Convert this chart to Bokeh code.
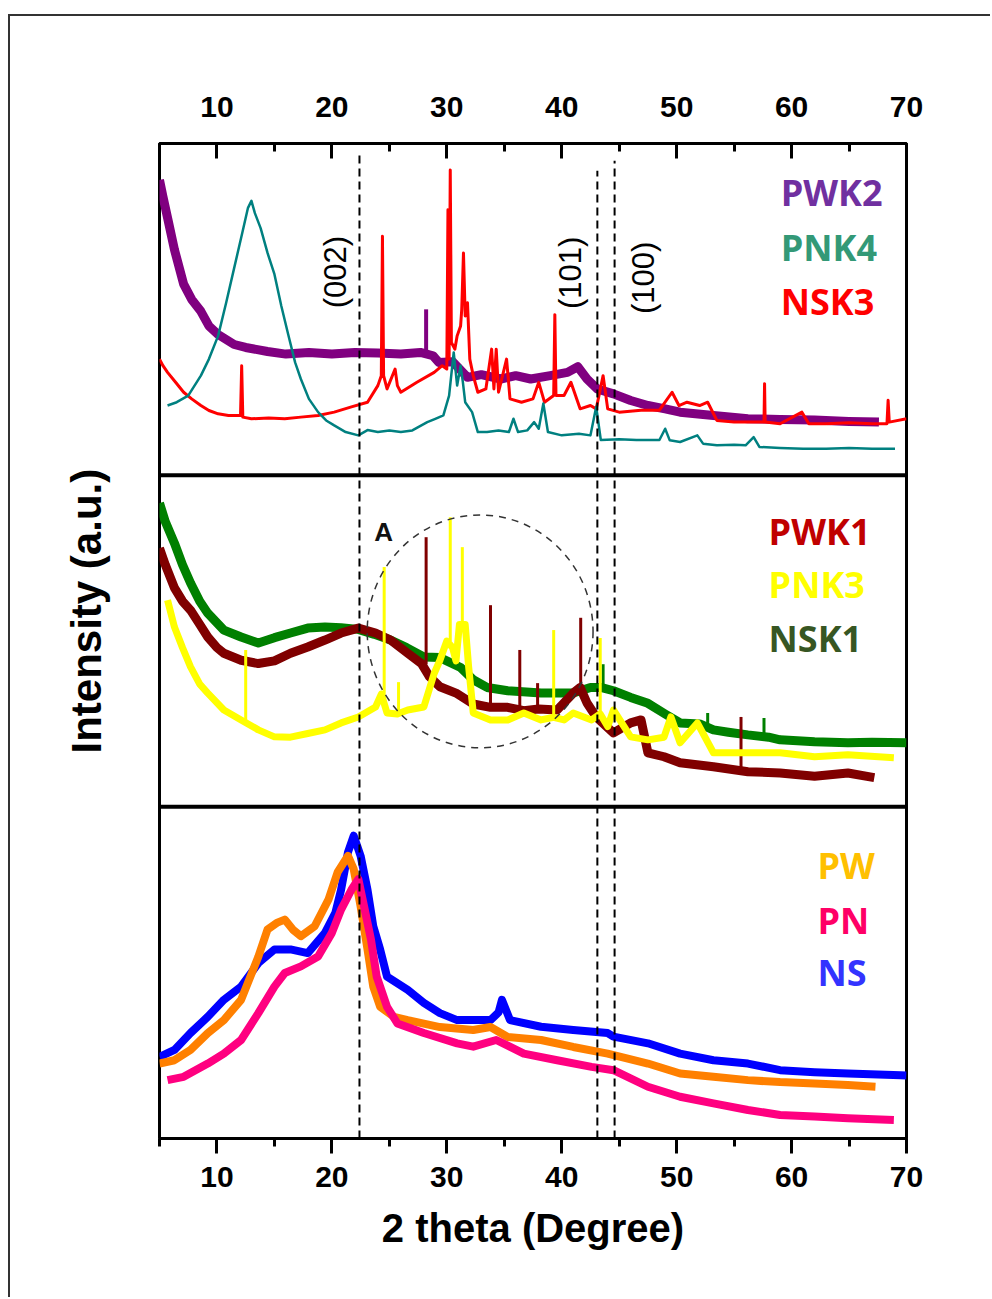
import math
from bokeh.plotting import figure
from bokeh.models import Range1d, LinearAxis, SingleIntervalTicker, Span, Title
from bokeh.core.properties import value
from bokeh.embed import file_html
from bokeh.resources import INLINE

# ---------------- data ----------------
# values are in a.u. within each panel (0..100); panels are stacked
# top panel: PWK2, PNK4, NSK3
pwk2_x = [5.0, 5.3, 5.7, 6.3, 7.1, 7.8, 8.6, 9.3, 10.1, 11.5, 12.5, 14.4, 16.0, 18.0, 20.0, 22.0, 24.0,
          26.0, 27.7, 28.8, 29.3, 30.5, 31.8, 33.0, 34.7, 36.0, 37.3, 39.0, 40.5, 41.4,
          42.2, 43.1, 44.5, 46.0, 47.5, 49.0, 50.3, 53.2, 56.2, 59.0, 62.0, 65.0, 67.6]
pwk2_y = [89, 84, 77.6, 68, 57.6, 53, 49.4, 45, 42.4, 39.4, 38.5, 37.3, 36.5, 37, 36.5, 37, 36.8,
          36.5, 37, 36, 34, 34.2, 29.5, 30.3, 29, 30, 29, 30, 31, 32.7,
          29, 26, 24.5, 22.5, 21, 20, 19, 18, 17, 16.8, 16.6, 16.2, 16]
pwk2_spike_x = [28.2]
pwk2_spike_base = [37]
pwk2_spike_top = [50]

pnk4_x = [5.7, 6.5, 7.5, 8.6, 9.3, 10.1, 10.8, 11.5, 12.2, 12.7, 13.0, 13.3, 13.8, 14.4, 15.0, 15.6,
          16.2, 16.8, 17.3, 18.0, 18.8, 19.5, 20.2, 21.2, 22.3, 23.1, 24.0, 25.0, 26.0, 27.0, 28.3,
          29.0, 29.7, 30.2, 30.6, 30.9, 31.2, 31.4, 31.6, 32.2, 32.7, 33.5, 34.5, 35.4, 35.8, 36.2,
          37.0, 37.6, 38.0, 38.4, 38.8, 40.0, 41.5, 42.5, 43.0, 43.4, 45.0, 46.5, 48.5, 49.0, 49.4,
          50.3, 51.8, 52.3, 53.5, 55.0, 56.0, 56.7, 57.2, 59.0, 61.0, 63.0, 65.0, 67.0, 69.0]
pnk4_y = [21, 22, 24, 30, 35, 42, 52, 62.5, 73, 80.6, 82.7, 79, 74.5, 67, 60.6, 51,
          42.4, 34, 29, 23, 19, 16.5, 15, 13, 12, 13.6, 13, 13.5, 13, 13.5, 16,
          17, 18, 24, 37, 27, 33, 28, 22, 19, 13, 13, 13.5, 13, 17, 13,
          13.5, 16, 14, 21.6, 13, 12, 12.5, 12, 20.6, 10.6, 10.8, 10.6, 10.6, 14, 10.5,
          10, 12, 9.5, 9, 9.2, 9, 11.5, 8.5, 8.2, 8, 8, 8.2, 8, 8]

nsk3_x = [5.0, 5.3, 5.7, 6.4, 7.1, 7.8, 8.6, 9.3, 10.1, 11.0, 12.05, 12.15, 12.25, 13.0, 14.5, 15.9,
          17.3, 18.8, 20.2, 21.7, 23.1, 24.0, 24.3, 24.4, 24.5, 24.8, 25.5, 25.7, 26.0, 27.4, 28.9,
          29.6, 30.0, 30.1, 30.2, 30.3, 30.4, 30.7, 30.9, 31.2, 31.3, 31.45, 31.6, 31.8, 32.0, 32.3,
          32.7, 33.4, 33.9, 34.1, 34.3, 34.5, 35.2, 35.5, 36.5, 37.5, 38.0, 38.5, 39.3, 39.4, 39.5,
          40.2, 40.8, 41.6, 42.5, 43.0, 43.6, 44.0, 45.0, 46.9, 48.5, 49.6, 50.2, 50.9, 52.0, 52.7,
          53.5, 55.0, 56.5, 57.6, 57.65, 57.7, 59.0, 60.9, 61.5, 63.0, 65.0, 67.0, 68.3, 68.4, 68.5, 70.0]
nsk3_y = [35, 33, 31, 28, 25, 23, 21, 19.5, 18.5, 18, 18, 33, 17.5, 17, 17.2, 17,
          17.5, 18, 19, 20.6, 22, 27, 30, 72, 30, 26, 32, 27, 25, 28, 31,
          33, 32, 80, 35, 92, 40, 38, 42, 45, 50, 67, 48, 52, 35, 30,
          25, 26, 38, 26, 38, 25, 35, 23, 22, 23, 28, 22, 24, 48.4, 24,
          24, 28, 20, 21, 20, 30, 20, 19, 19.6, 19.6, 25, 21, 22, 21, 22,
          16.5, 16, 16, 16, 27.6, 16, 15.5, 19, 15.5, 15.5, 15.8, 15.5, 15.5, 22.6, 16, 17]

# middle panel: PWK1, PNK3, NSK1
pwk1_x = [5.0, 5.5, 6.3, 7.0, 7.7, 8.5, 9.2, 10.0, 10.6, 12.1, 13.6, 15.0, 16.4, 17.9, 19.4, 20.8,
          22.3, 23.8, 25.1, 26.6, 27.8, 28.5, 29.4, 30.8, 32.3, 33.8, 35.3, 36.7, 38.0, 39.6, 41.0,
          41.6, 42.2, 43.0, 44.5, 46.0, 46.9, 47.5, 48.9, 50.3, 53.2, 56.2, 59.0, 62.0, 64.9, 67.2]
pwk1_y = [78, 73, 66, 62, 59.3, 55, 51.2, 48, 46.3, 44.2, 43.2, 44, 46.3, 48.2, 50.3, 52.4,
          53.9, 52.4, 50.3, 46.3, 43.2, 39.2, 36.2, 34.3, 31, 30, 30, 29, 29.5, 29.2, 34.3,
          36, 31.3, 27.1, 22.3, 25.3, 26.2, 16.3, 15.1, 13.3, 12.1, 10.6, 10.2, 9.2, 10.2, 8.8]
pwk1_spike_x = [28.2, 33.8, 36.35, 37.9, 41.65, 55.6]
pwk1_spike_base = [43, 30, 29.5, 29, 35, 11]
pwk1_spike_top = [81.3, 60.8, 47.3, 37.3, 57, 27.1]

pnk3_x = [5.7, 6.3, 7.0, 7.7, 8.5, 9.2, 10.6, 12.1, 13.6, 15.0, 16.4, 17.9, 19.4, 20.8, 22.3, 23.8,
          24.3, 24.8, 25.7, 26.6, 28.0, 28.9, 29.4, 30.0, 30.5, 30.8, 31.1, 31.6, 31.9, 32.3, 33.8,
          35.3, 36.7, 38.2, 39.3, 40.2, 41.0, 42.6, 43.35, 44.0, 44.5, 46.0, 47.5, 48.9, 49.5, 50.3,
          51.8, 53.2, 56.2, 59.0, 62.0, 64.9, 68.9]
pnk3_y = [62.3, 54.2, 48, 42.2, 37, 34.3, 29.2, 26.2, 23.2, 21.1, 21, 22.1, 23.2, 25.3, 27.1, 30.1,
          34, 28.3, 28, 29.2, 30.1, 40.2, 44.2, 50, 48, 44, 55, 55, 42.2, 28.3, 26.2,
          26.2, 28.3, 26.2, 27, 26.2, 28.3, 26.2, 28, 24.2, 29.2, 21.1, 20.2, 21, 27.1, 19.3,
          25.3, 16.3, 16.3, 16.3, 15.1, 15.7, 14.8]
pnk3_spike_x = [12.5, 24.55, 25.8, 30.3, 31.35, 39.3, 43.35]
pnk3_spike_base = [26, 32, 28, 50, 55, 27, 28]
pnk3_spike_top = [47.3, 72.3, 37.6, 87.3, 78.3, 53.3, 50.9]

nsk1_x = [5.0, 5.5, 6.3, 7.0, 7.7, 8.5, 9.2, 10.6, 12.1, 13.6, 15.0, 16.4, 17.9, 19.4, 20.8, 22.3,
          23.7, 25.1, 26.5, 28.0, 29.4, 31.2, 32.3, 33.5, 35.3, 38.2, 41.0, 42.5, 43.4, 44.5, 46.0,
          47.5, 49.0, 50.3, 52.0, 53.2, 54.5, 56.2, 58.0, 59.0, 62.0, 64.9, 67.0, 70.0]
nsk1_y = [91.6, 86, 79.5, 73, 67.5, 62, 58.4, 53.3, 51.2, 49.4, 51, 52.4, 53.9, 54.2, 54, 53.5,
          52, 50.3, 48, 45.2, 45, 42, 38.3, 36, 35, 34.3, 34.3, 36, 36, 35, 33,
          31.2, 28, 25.3, 25, 23.2, 22.5, 21.7, 21, 20.2, 19.6, 19.3, 19.5, 19.3]
nsk1_spike_x = [43.6, 52.7, 57.6]
nsk1_spike_base = [36, 24, 21.5]
nsk1_spike_top = [43, 28.3, 26.8]

# bottom panel: PW, PN, NS
ns_x = [5.0, 6.3, 7.7, 9.2, 10.6, 12.1, 13.6, 15.0, 16.4, 17.9, 19.4, 20.3, 20.8, 21.4, 21.9, 22.5,
        23.1, 23.6, 24.2, 24.8, 26.6, 28.0, 29.4, 30.9, 32.3, 33.8, 34.5, 34.8, 35.5, 38.2, 41.0,
        44.0, 44.5, 47.5, 50.3, 53.2, 56.2, 59.0, 62.0, 64.9, 69.5, 70.0]
ns_y = [24.6, 26.7, 31.8, 36.7, 41.8, 45.8, 52.9, 57, 57, 55.9, 62, 68, 75, 86.3, 91.3, 85.2,
        75, 64, 57, 48.8, 44.8, 40.9, 37.8, 35.7, 35.7, 35.7, 38, 41.8, 35.7, 33.7, 32.7,
        31.8, 30.7, 28.7, 25.6, 23.6, 22.6, 20.6, 20, 19.6, 19.1, 19]

pw_x = [5.0, 6.3, 7.7, 9.2, 10.6, 12.1, 13.6, 14.4, 15.2, 15.9, 16.6, 17.3, 18.5, 19.7, 20.5, 21.4,
        21.9, 22.5, 23.1, 23.6, 24.2, 25.4, 26.6, 29.4, 32.3, 33.8, 35.3, 38.2, 41.0, 44.0, 47.5,
        50.3, 53.2, 56.2, 59.0, 62.0, 64.9, 67.3]
pw_y = [22.6, 23.6, 26.7, 31.8, 35.7, 41.8, 54.8, 63, 65, 66, 63, 61, 64, 72, 80.3, 85.2,
        81.2, 70, 57, 45.8, 39.7, 36.7, 35.7, 33.6, 32.7, 33.6, 30.6, 29.7, 27.6, 25.6, 22.6,
        19.6, 18.6, 17.6, 17, 16.6, 16.1, 15.6]

pn_x = [5.7, 7.1, 9.2, 10.6, 12.1, 13.6, 15.0, 15.9, 17.3, 18.8, 20.0, 20.8, 21.7, 22.3, 22.8, 23.4,
        23.9, 24.8, 25.7, 28.0, 30.9, 32.3, 34.3, 36.7, 39.6, 42.6, 44.5, 47.5, 50.3, 53.2, 56.2,
        59.0, 62.0, 64.9, 68.9]
pn_y = [17.6, 18.6, 22.6, 25.6, 29.7, 37.8, 45.8, 49.9, 51.9, 54.9, 62, 69, 75, 78.2, 70, 60,
        48.8, 39.7, 34.7, 31.8, 28.7, 27.7, 29.7, 25.6, 23.6, 21.6, 20.6, 15.6, 12.6, 10.6, 8.6,
        7.1, 6.6, 6.1, 5.6]

ref_lines = [22.4, 43.1, 44.6]          # dashed reference positions (2 theta)
peak_labels = ["(002)", "(101)", "(100)"]
x_ticks_interval = 10

# ---------------- figure ----------------
PANEL = 100.0
p = figure(width=982, height=1283, x_range=Range1d(5, 70), y_range=Range1d(0, 3 * PANEL),
           output_backend="svg", toolbar_location=None,
           min_border_left=148, min_border_right=86, min_border_top=127, min_border_bottom=161,
           background_fill_color="white", border_fill_color="white")
p.margin = (14, 0, 0, 8)
p.styles = {"border-left": "2px solid #333333", "border-top": "2px solid #333333"}
p.grid.visible = False
p.outline_line_color = "black"
p.outline_line_width = 3

FONT = value("Liberation Sans")


def style_x(ax, inward):
    ax.ticker = SingleIntervalTicker(interval=x_ticks_interval, num_minor_ticks=2)
    ax.axis_line_color = "black"
    ax.axis_line_width = 3
    ax.major_tick_line_width = 3
    ax.minor_tick_line_width = 3
    if inward:
        ax.major_tick_in, ax.major_tick_out = 15, 0
        ax.minor_tick_in, ax.minor_tick_out = 8, 0
    else:
        ax.major_tick_in, ax.major_tick_out = 0, 15
        ax.minor_tick_in, ax.minor_tick_out = 0, 8
    ax.major_label_text_font = "Liberation Sans"
    ax.major_label_text_font_style = "bold"
    ax.major_label_text_font_size = "30px"
    ax.major_label_text_color = "black"


style_x(p.xaxis[0], inward=False)
p.xaxis.major_label_standoff = 13
p.xaxis.axis_label = "2 theta (Degree)"
p.xaxis.axis_label_text_font = "Liberation Sans"
p.xaxis.axis_label_text_font_style = "bold"
p.xaxis.axis_label_text_font_size = "40px"
p.xaxis.axis_label_text_color = "black"
p.xaxis.axis_label_standoff = 16

top = LinearAxis()
style_x(top, inward=True)
top.major_label_standoff = 27
p.add_layout(top, "above")

p.yaxis.visible = False
ytitle = Title(text="Intensity (a.u.)", align="left", offset=385, standoff=100,
               text_font="Liberation Sans", text_font_style="bold", text_font_size="42px",
               text_color="black")
p.add_layout(ytitle, "left")

# panel separators
for loc in (PANEL, 2 * PANEL):
    p.add_layout(Span(location=loc, dimension="width", line_color="black", line_width=4))


def draw(xs, ys, panel, color, width):
    off = panel * PANEL
    p.line(xs, [v + off for v in ys], line_color=color, line_width=width, line_join="round")


def spikes(xs, base, topv, panel, color, width=2.5):
    off = panel * PANEL
    p.segment(x0=xs, y0=[b + off for b in base], x1=xs, y1=[t + off for t in topv],
              line_color=color, line_width=width)


# top panel (index 2)
draw(pwk2_x, pwk2_y, 2, "#800080", 9)
spikes(pwk2_spike_x, pwk2_spike_base, pwk2_spike_top, 2, "#800080", 4)
draw(nsk3_x, nsk3_y, 2, "#FF0000", 3)
draw(pnk4_x, pnk4_y, 2, "#008080", 2.5)
# middle panel (index 1)
draw(nsk1_x, nsk1_y, 1, "#008000", 9)
spikes(nsk1_spike_x, nsk1_spike_base, nsk1_spike_top, 1, "#008000", 3)
draw(pwk1_x, pwk1_y, 1, "#800000", 9)
spikes(pwk1_spike_x, pwk1_spike_base, pwk1_spike_top, 1, "#800000", 3)
draw(pnk3_x, pnk3_y, 1, "#FFFF00", 7)
spikes(pnk3_spike_x, pnk3_spike_base, pnk3_spike_top, 1, "#FFFF00", 3)
# bottom panel (index 0)
draw(ns_x, ns_y, 0, "#0000FF", 8)
draw(pw_x, pw_y, 0, "#FF8000", 8)
draw(pn_x, pn_y, 0, "#FF0080", 8)

# dashed reference lines
p.segment(x0=ref_lines, y0=[0, 0, 0], x1=ref_lines, y1=[296.4, 291.8, 294.8],
          line_color="black", line_width=2, line_dash="8 5")

# dashed circle "A"
p.ellipse(x=[32.9], y=[152.9], width=19.65, height=70.2, fill_color=None,
          line_color="#333333", line_width=1.5, line_dash="7 6")
p.text(x=[24.5], y=[183.0], text=["A"], text_font=FONT, text_font_style="bold",
       text_font_size="26px", text_color="#111111", text_align="center", text_baseline="middle")

# peak labels (rotated)
p.text(x=[20.35, 40.8, 47.1], y=[261.2, 261.0, 259.5], text=peak_labels, text_font=FONT,
       text_font_size="31px", text_color="black", angle=math.pi / 2,
       text_align="center", text_baseline="middle")

# in-panel legends
LFONT = value("Open Sans")
p.text(x=[59.05] * 3, y=[285.2, 268.5, 252.4], text=["PWK2", "PNK4", "NSK3"],
       text_color=["#7030A0", "#339977", "#FF0000"], text_font=LFONT, text_font_style="bold",
       text_font_size="36px", text_align="left", text_baseline="middle")
p.text(x=[58.0] * 3, y=[183.1, 166.9, 150.9], text=["PWK1", "PNK3", "NSK1"],
       text_color=["#C00000", "#FFFF00", "#375623"], text_font=LFONT, text_font_style="bold",
       text_font_size="36px", text_align="left", text_baseline="middle")
p.text(x=[62.25] * 3, y=[82.4, 65.8, 50.0], text=["PW", "PN", "NS"],
       text_color=["#FFC000", "#FF0066", "#3333FF"], text_font=LFONT, text_font_style="bold",
       text_font_size="36px", text_align="left", text_baseline="middle")

open("out.html", "w").write(file_html(p, INLINE))
